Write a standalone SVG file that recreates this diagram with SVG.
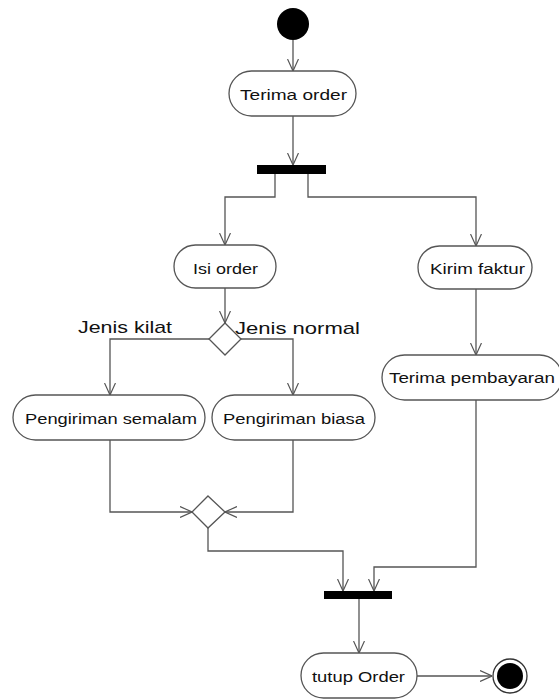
<svg xmlns="http://www.w3.org/2000/svg" width="559" height="700" viewBox="0 0 559 700">
<style>
.box{fill:#fff;stroke:#555;stroke-width:1.3}
.lbl{font-family:"Liberation Sans",Arial,sans-serif;font-size:14px;fill:#111}
.guard{font-family:"Liberation Sans",Arial,sans-serif;font-size:17px;fill:#111}
.con{fill:none;stroke:#555;stroke-width:1.3}
.bar{fill:#000}
.dec{fill:#fff;stroke:#555;stroke-width:1.3}
</style>
<defs>
<marker id="arr" viewBox="0 0 12 12" refX="12" refY="6" markerWidth="12" markerHeight="12" markerUnits="userSpaceOnUse" orient="auto">
<path d="M0,0.5 L12,6 L0,11.5" fill="none" stroke="#555" stroke-width="1.2"/>
</marker>
</defs>
<rect width="559" height="700" fill="#fff"/>
<g id="connectors">
<path class="con" d="M293,40 V71" marker-end="url(#arr)"/>
<path class="con" d="M293,116 V165" marker-end="url(#arr)"/>
<path class="con" d="M275,174 V197 H225 V245" marker-end="url(#arr)"/>
<path class="con" d="M308,174 V197 H476 V246" marker-end="url(#arr)"/>
<path class="con" d="M225,288 V323" marker-end="url(#arr)"/>
<path class="con" d="M209,339 H110 V395" marker-end="url(#arr)"/>
<path class="con" d="M241,339 H293 V395" marker-end="url(#arr)"/>
<path class="con" d="M476,289 V355" marker-end="url(#arr)"/>
<path class="con" d="M110,440 V512 H192" marker-end="url(#arr)"/>
<path class="con" d="M293,440 V512 H225" marker-end="url(#arr)"/>
<path class="con" d="M208,528 V551 H343 V591" marker-end="url(#arr)"/>
<path class="con" d="M476,400 V567 H374 V591" marker-end="url(#arr)"/>
<path class="con" d="M359,598 V653" marker-end="url(#arr)"/>
<path class="con" d="M417,676 H492" marker-end="url(#arr)"/>
<text class="guard" x="78" y="333" textLength="94" lengthAdjust="spacingAndGlyphs">Jenis kilat</text>
<text class="guard" x="235" y="334" textLength="125" lengthAdjust="spacingAndGlyphs">Jenis normal</text>
</g>
<g id="start"><circle cx="293" cy="24" r="16" fill="#000"/></g>
<g id="terima-order">
<rect class="box" x="229" y="71" width="127" height="45" rx="22.5"/>
<text class="lbl" x="240" y="100" textLength="107" lengthAdjust="spacingAndGlyphs">Terima order</text>
</g>
<g id="fork"><rect class="bar" x="257" y="165" width="69" height="9"/></g>
<g id="isi-order">
<rect class="box" x="174" y="245" width="102" height="43" rx="21.5"/>
<text class="lbl" x="193" y="274" textLength="65" lengthAdjust="spacingAndGlyphs">Isi order</text>
</g>
<g id="kirim-faktur">
<rect class="box" x="418" y="246" width="114" height="43" rx="21.5"/>
<text class="lbl" x="430" y="274" textLength="95" lengthAdjust="spacingAndGlyphs">Kirim faktur</text>
</g>
<g id="decision">
<polygon class="dec" points="225,323 241,339 225,355 209,339"/>
</g>
<g id="terima-pembayaran">
<rect class="box" x="382" y="355" width="180" height="45" rx="22.5"/>
<text class="lbl" x="389" y="383" textLength="166" lengthAdjust="spacingAndGlyphs">Terima pembayaran</text>
</g>
<g id="pengiriman-semalam">
<rect class="box" x="13" y="395" width="192" height="45" rx="22.5"/>
<text class="lbl" x="25" y="424" textLength="172" lengthAdjust="spacingAndGlyphs">Pengiriman semalam</text>
</g>
<g id="pengiriman-biasa">
<rect class="box" x="212" y="395" width="163" height="45" rx="22.5"/>
<text class="lbl" x="223" y="424" textLength="142" lengthAdjust="spacingAndGlyphs">Pengiriman biasa</text>
</g>
<g id="merge">
<polygon class="dec" points="208,496 225,512 208,528 192,512"/>
</g>
<g id="join"><rect class="bar" x="324" y="591" width="68" height="8"/></g>
<g id="tutup-order">
<rect class="box" x="301" y="653" width="116" height="45" rx="22.5"/>
<text class="lbl" x="312" y="682" textLength="93" lengthAdjust="spacingAndGlyphs">tutup Order</text>
</g>
<g id="end">
<circle cx="510" cy="676" r="17" fill="#fff" stroke="#333" stroke-width="1.3"/>
<circle cx="510" cy="676" r="13" fill="#000"/>
</g>
</svg>
